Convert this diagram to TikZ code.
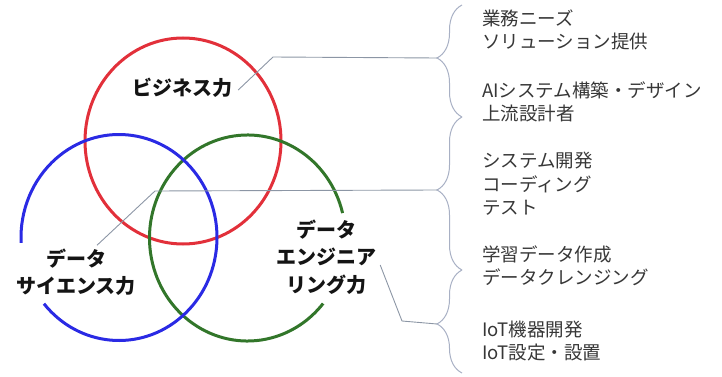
\documentclass[tikz,border=0pt]{standalone}
\usepackage{fontspec}
\newfontfamily\jp{Noto Sans CJK JP}
\usetikzlibrary{decorations.pathreplacing,calc}
\definecolor{cred}{RGB}{226,48,58}
\definecolor{cblue}{RGB}{42,42,228}
\definecolor{cgreen}{RGB}{50,118,42}
\definecolor{leader}{RGB}{140,150,165}
\definecolor{bracec}{RGB}{168,176,196}
\definecolor{txt}{RGB}{55,55,55}
\begin{document}
\begin{tikzpicture}[x=1pt,y=1pt,
  ring/.style={line width=3pt},
  lbl/.style={font=\jp\bfseries\fontsize{20}{27.5}\selectfont, align=center, inner sep=2pt, text=black!92},
  item/.style={font=\jp\fontsize{18.5}{23.5}\selectfont, align=left, anchor=west, inner sep=0pt, text=txt},
  leadline/.style={draw=leader, line width=0.9pt},
  bracestyle/.style={draw=bracec, line width=1pt, decorate}
]
\useasboundingbox (0,0) rectangle (722,-377);
% circles
\draw[ring, cred] (183,-141) ellipse [x radius=98, y radius=103];
\draw[ring, cgreen] (247.5,-238) ++(14:98 and 103) arc[start angle=14, end angle=320.5, x radius=98, y radius=103];
\draw[ring, cblue] (119,-237.5) ++(220:98 and 103) arc[start angle=220, end angle=543, x radius=98, y radius=103];
% labels
\node[lbl] (bus) at (182,-88) {ビジネス力};
\node[lbl] (ds) at (76,-272) {データ\\サイエンス力};
\node[lbl] (de) at (326,-257) {データ\\エンジニア\\リング力};
% braces
\draw[bracestyle, decoration={brace, amplitude=25pt, aspect=0.527}] (462,-117) -- (462,-5);
\draw[bracestyle, decoration={brace, amplitude=25pt, aspect=0.523}] (462,-270) -- (462,-117);
\draw[bracestyle, decoration={brace, amplitude=25pt, aspect=0.476}] (462,-373) -- (462,-270);
\coordinate (t1) at (437,-58);
\coordinate (t2) at (437,-190);
\coordinate (t3) at (437,-324);
% leaders
\draw[leadline] ([xshift=4pt,yshift=-2pt]bus.east) -- (273,-57) -- (t1);
\draw[leadline] ([xshift=21pt,yshift=1pt]ds.north) -- (155,-191) -- (t2);
\draw[leadline] ([xshift=2pt,yshift=-8pt]de.east) -- (402,-321) -- (t3);
% items
\node[item] (g1) at (482,-30) {業務ニーズ\\ソリューション提供};
\node[item] (g2) at (482,-102) {AIシステム構築・デザイン\\上流設計者};
\node[item] (g3) at (482,-184) {システム開発\\コーディング\\テスト};
\node[item] (g4) at (482,-266) {学習データ作成\\データクレンジング};
\node[item] (g5) at (482,-341) {IoT機器開発\\IoT設定・設置};
\end{tikzpicture}
\end{document}
